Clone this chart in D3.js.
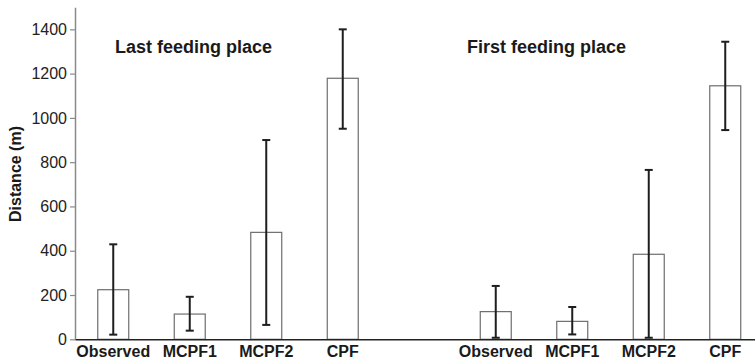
<!DOCTYPE html>
<html>
<head>
<meta charset="utf-8">
<script src="https://cdn.jsdelivr.net/npm/d3@7"></script>
<style>
  body { margin: 0; background: #fff; }
  svg { display: block; font-family: "Liberation Sans", Arial, sans-serif; }
</style>
</head>
<body>
<svg id="chart"></svg>
<script>
// data (metres)
const slots = ['L-Observed', 'L-MCPF1', 'L-MCPF2', 'L-CPF', 'gap', 'F-Observed', 'F-MCPF1', 'F-MCPF2', 'F-CPF'];
const barKeys = ['L-Observed', 'L-MCPF1', 'L-MCPF2', 'L-CPF', 'F-Observed', 'F-MCPF1', 'F-MCPF2', 'F-CPF'];
const means = [224, 114, 483, 1179, 125, 81, 384, 1145];
const lows = [21, 39, 65, 951, 7, 22, 7, 945];
const highs = [429, 192, 900, 1400, 241, 146, 765, 1344];
const yTicks = [0, 200, 400, 600, 800, 1000, 1200, 1400];
const groupTitles = ['Last feeding place', 'First feeding place'];

const w = 755;
const h = 362;
const plotLeft = 75;
const plotBottom = 339.3;
const plotTop = 7.2;

const svg = d3.select('#chart')
    .attr('width', w)
    .attr('height', h);

const x = d3.scaleBand()
    .domain(slots)
    .range([plotLeft, plotLeft + slots.length * 76.5])
    .paddingInner(0.595)
    .paddingOuter(0.2975);

const y = d3.scaleLinear()
    .domain([0, 1500])
    .range([plotBottom, plotTop]);

const bars = barKeys.map((k, i) => ({ key: k, mean: means[i], lo: lows[i], hi: highs[i] }));

// bars
svg.append('g')
    .selectAll('rect')
    .data(bars)
    .enter()
    .append('rect')
    .attr('x', d => x(d.key))
    .attr('y', d => y(d.mean))
    .attr('width', x.bandwidth())
    .attr('height', d => y(0) - y(d.mean))
    .attr('fill', '#fff')
    .attr('stroke', '#6e6e6e')
    .attr('stroke-width', 1.2);

// error bars
const err = svg.append('g')
    .attr('stroke', '#1e1e1e')
    .attr('stroke-width', 2);

const cx = d => x(d.key) + x.bandwidth() / 2;

err.selectAll('line.v')
    .data(bars)
    .enter()
    .append('line')
    .attr('class', 'v')
    .attr('x1', cx).attr('x2', cx)
    .attr('y1', d => y(d.lo)).attr('y2', d => y(d.hi));

['lo', 'hi'].forEach(end => {
    err.selectAll('line.' + end)
        .data(bars)
        .enter()
        .append('line')
        .attr('class', end)
        .attr('x1', d => cx(d) - 4).attr('x2', d => cx(d) + 4)
        .attr('y1', d => y(d[end])).attr('y2', d => y(d[end]));
});

// y axis
const yAxis = svg.append('g')
    .attr('transform', `translate(${plotLeft},0)`)
    .call(d3.axisLeft(y).tickValues(yTicks).tickFormat(d3.format('d'))
        .tickSize(5).tickSizeOuter(0).tickPadding(3));

yAxis.select('.domain').attr('stroke', '#8a8a8a').attr('stroke-width', 1.5);
yAxis.selectAll('.tick line').attr('stroke', '#8a8a8a').attr('stroke-width', 1.2);
yAxis.selectAll('.tick text')
    .attr('font-size', 16)
    .attr('fill', '#222')
    .attr('font-family', '"Liberation Sans", Arial, sans-serif');

// x axis
const xAxis = svg.append('g')
    .attr('transform', `translate(0,${plotBottom})`)
    .call(d3.axisBottom(x).tickSize(0).tickSizeOuter(0).tickPadding(6)
        .tickFormat(d => d === 'gap' ? '' : d.slice(2)));

xAxis.select('.domain').attr('stroke', '#222').attr('stroke-width', 1.5);
xAxis.selectAll('.tick text')
    .attr('font-size', 16)
    .attr('font-weight', 'bold')
    .attr('fill', '#1a1a1a')
    .attr('font-family', '"Liberation Sans", Arial, sans-serif');

// y axis title
svg.append('text')
    .attr('transform', `translate(21,174) rotate(-90)`)
    .attr('text-anchor', 'middle')
    .attr('font-size', 16)
    .attr('font-weight', 'bold')
    .attr('fill', '#1a1a1a')
    .text('Distance (m)');

// group titles
svg.selectAll('text.group')
    .data(groupTitles)
    .enter()
    .append('text')
    .attr('class', 'group')
    .attr('x', (d, i) => i === 0 ? 115 : 467)
    .attr('y', 52.5)
    .attr('font-size', 18)
    .attr('font-weight', 'bold')
    .attr('fill', '#1a1a1a')
    .text(d => d);
</script>
</body>
</html>
